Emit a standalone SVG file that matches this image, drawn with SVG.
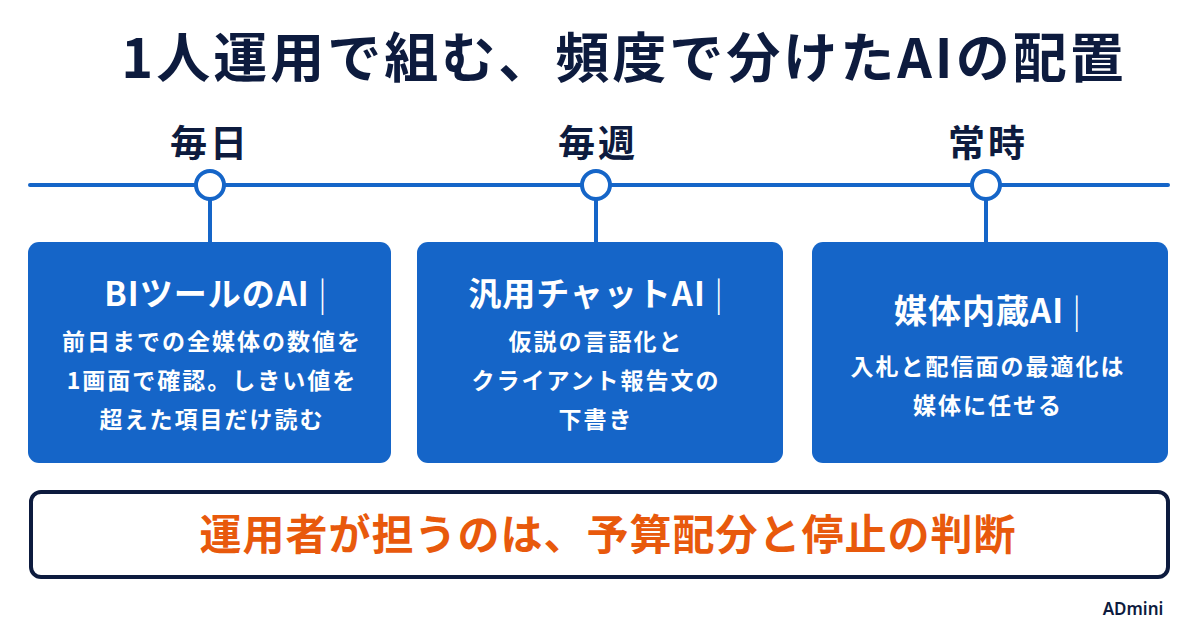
<svg xmlns="http://www.w3.org/2000/svg" width="1200" height="628" viewBox="0 0 1200 628">
<style>
text{font-family:"Noto Sans CJK JP","Noto Sans",sans-serif;font-weight:700;text-anchor:middle}
.title{font-size:54px;fill:#0d1b3e;letter-spacing:3px}
.freq{font-size:37px;fill:#0d1b3e;letter-spacing:3px}
.box{fill:#1565c8}
.bt{font-size:33px;fill:#ffffff;letter-spacing:1px}
.bar{font-weight:300}
.bb{font-size:23px;fill:#ffffff;letter-spacing:2px}
.line{stroke:#1565c8;stroke-width:4;fill:none;stroke-linecap:round}
.dot{fill:#ffffff;stroke:#1565c8;stroke-width:4}
</style>
<rect width="1200" height="628" fill="#ffffff"/>
<text class="title" x="624" y="78">1人運用で組む、頻度で分けたAIの配置</text>
<g id="connectors">
<line class="line" x1="30" y1="185" x2="1168" y2="185"/>
<line class="line" x1="210" y1="199" x2="210" y2="244"/>
<line class="line" x1="596" y1="199" x2="596" y2="244"/>
<line class="line" x1="986" y1="199" x2="986" y2="244"/>
<circle class="dot" cx="210" cy="185" r="14"/>
<circle class="dot" cx="596" cy="185" r="14"/>
<circle class="dot" cx="986" cy="185" r="14"/>
</g>
<g id="label-daily"><text class="freq" x="210" y="157">毎日</text></g>
<g id="label-weekly"><text class="freq" x="598" y="157">毎週</text></g>
<g id="label-always"><text class="freq" x="988" y="157">常時</text></g>
<g id="node-bi">
<rect class="box" x="28" y="242" width="363" height="221" rx="11"/>
<text class="bt" x="216" y="306">BIツールのAI <tspan class="bar">|</tspan></text>
<text class="bb" x="212" y="350">前日までの全媒体の数値を</text>
<text class="bb" x="212" y="389">1画面で確認。しきい値を</text>
<text class="bb" x="212" y="428">超えた項目だけ読む</text>
</g>
<g id="node-chat">
<rect class="box" x="417" y="242" width="366" height="221" rx="11"/>
<text class="bt" x="596" y="306">汎用チャットAI <tspan class="bar">|</tspan></text>
<text class="bb" x="596" y="350">仮説の言語化と</text>
<text class="bb" x="596" y="389">クライアント報告文の</text>
<text class="bb" x="596" y="428">下書き</text>
</g>
<g id="node-media">
<rect class="box" x="812" y="242" width="356" height="221" rx="11"/>
<text class="bt" x="988" y="323">媒体内蔵AI <tspan class="bar">|</tspan></text>
<text class="bb" x="988" y="375">入札と配信面の最適化は</text>
<text class="bb" x="988" y="414">媒体に任せる</text>
</g>
<g id="node-summary">
<rect x="31" y="492" width="1137" height="85" rx="10" fill="#ffffff" stroke="#0d1b3e" stroke-width="4"/>
<text x="608" y="550" style="font-size:42px;fill:#e8590c;letter-spacing:1px">運用者が担うのは、予算配分と停止の判断</text>
</g>
<text x="1133" y="615" style="font-size:17px;fill:#0d1b3e;font-family:'Noto Sans',sans-serif;font-weight:600">ADmini</text>
</svg>
